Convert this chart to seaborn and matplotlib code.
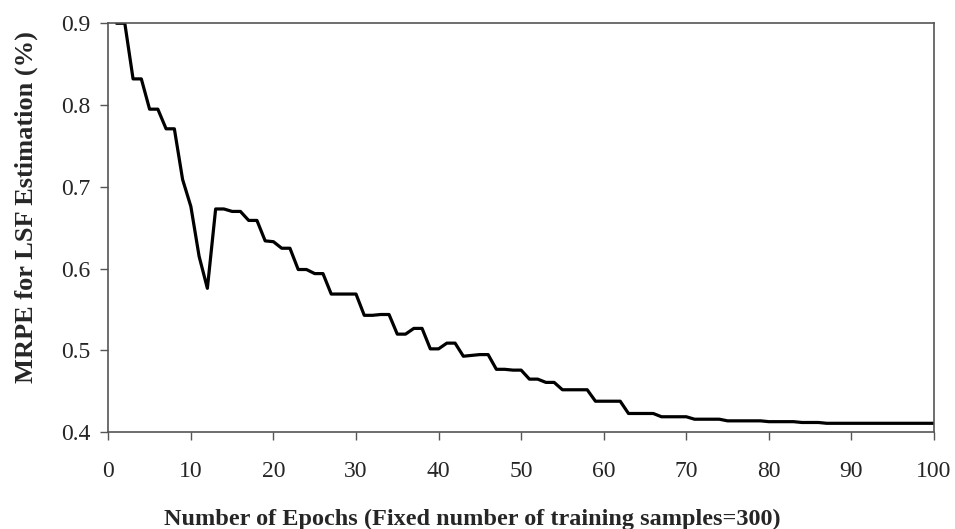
import matplotlib
matplotlib.use('Agg')
import matplotlib.pyplot as plt
import seaborn as sns
import pandas as pd

# --- dados ---
epochs = list(range(1, 101))
mrpe = [
    0.900, 0.900, 0.832, 0.832, 0.795, 0.795, 0.771, 0.771, 0.709, 0.676,
    0.615, 0.576, 0.673, 0.673, 0.670, 0.670, 0.659, 0.659, 0.634, 0.633,
    0.625, 0.625, 0.599, 0.599, 0.594, 0.594, 0.569, 0.569, 0.569, 0.569,
    0.543, 0.543, 0.544, 0.544, 0.520, 0.520, 0.527, 0.527, 0.502, 0.502,
    0.509, 0.509, 0.493, 0.494, 0.495, 0.495, 0.477, 0.477, 0.476, 0.476,
    0.465, 0.465, 0.461, 0.461, 0.452, 0.452, 0.452, 0.452, 0.438, 0.438,
    0.438, 0.438, 0.423, 0.423, 0.423, 0.423, 0.419, 0.419, 0.419, 0.419,
    0.416, 0.416, 0.416, 0.416, 0.414, 0.414, 0.414, 0.414, 0.414, 0.413,
    0.413, 0.413, 0.413, 0.412, 0.412, 0.412, 0.411, 0.411, 0.411, 0.411,
    0.411, 0.411, 0.411, 0.411, 0.411, 0.411, 0.411, 0.411, 0.411, 0.411,
]
x_ticks = [0, 10, 20, 30, 40, 50, 60, 70, 80, 90, 100]
y_ticks = [0.4, 0.5, 0.6, 0.7, 0.8, 0.9]

df = pd.DataFrame({'Epoch': epochs, 'MRPE': mrpe})

sns.set_style('ticks')
plt.rcParams['font.family'] = ['Liberation Serif', 'DejaVu Serif']

fig = plt.figure(figsize=(9.55, 5.29), dpi=100)
ax = fig.add_axes([0.1134, 0.1828, 0.978 - 0.1134, 0.956 - 0.1828])

sns.lineplot(data=df, x='Epoch', y='MRPE', color='black', linewidth=2.3, ax=ax)

ax.set_xlim(0, 100)
ax.set_ylim(0.4, 0.9)
ax.set_xticks(x_ticks)
ax.set_yticks(y_ticks)
ax.set_xticklabels([str(t) for t in x_ticks])
ax.set_yticklabels([f'{t:.1f}' for t in y_ticks])

for side in ['left', 'bottom', 'top', 'right']:
    ax.spines[side].set_visible(True)
    ax.spines[side].set_color('#555555')
    ax.spines[side].set_linewidth(1.2)

ax.tick_params(axis='x', direction='out', length=6, width=1.0, color='#555555',
               labelsize=17, pad=15)
ax.tick_params(axis='y', direction='out', length=6, width=1.0, color='#555555',
               labelsize=17, pad=7)

# rótulos dos eixos (posição ajustada à figura original)
ax.set_xlabel('Number of Epochs (Fixed number of training samples=300)',
              fontsize=17.5, fontweight='bold', va='baseline')
ax.xaxis.set_label_coords(0.441, -0.226)
ax.set_ylabel('MRPE for LSF Estimation (%)', fontsize=19, fontweight='bold',
              va='center')
ax.yaxis.set_label_coords(-0.099, 0.55)
ax.grid(False)

fig.savefig('out.png', dpi=100, facecolor='white')
plt.close(fig)
